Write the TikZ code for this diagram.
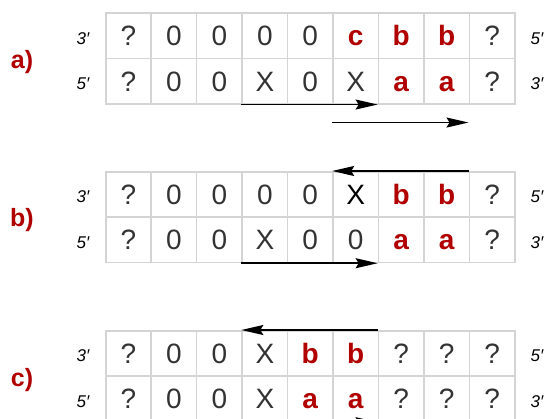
\documentclass[tikz,border=0pt]{standalone}
\usepackage{fontspec}
\setmainfont{Liberation Sans}
\usetikzlibrary{arrows.meta,calc}
\definecolor{gridgray}{HTML}{D4D4D4}
\definecolor{txtgray}{HTML}{333333}
\definecolor{darkred}{HTML}{B00000}
\newcommand\dnarow[4]{%
  \foreach \t/\s [count=\i] in {#4} {
    \node[cell,\s] (#1-#2-\i) at ({105+(\i-1)*45.44},#3) {\t};
  }}
\begin{document}
\begin{tikzpicture}[x=1pt,y=-1pt,
  cell/.style={draw=gridgray,line width=1.6pt,minimum width=45.44pt,minimum height=45.33pt,
    inner sep=0pt,anchor=north west,text height=20pt,text depth=0pt,
    font=\fontsize{28}{28}\selectfont},
  cg/.style={text=txtgray},
  ck/.style={text=black},
  cr/.style={text=darkred,font=\bfseries\fontsize{28}{28}\selectfont},
  plab/.style={text=darkred,font=\bfseries\fontsize{25}{25}\selectfont,inner sep=0pt},
  elab/.style={font=\itshape\fontsize{17}{17}\selectfont,inner sep=0pt,anchor=base},
  arr/.style={draw=black,line width=1.6pt,-{Stealth[length=22pt,width=10pt,inset=3pt]}}]
\useasboundingbox (0,0) rectangle (547,419);
\clip (0,0) rectangle (547,419);
% panel a
\dnarow{a}{1}{12.3}{?/cg,0/cg,0/cg,0/cg,0/cg,c/cr,b/cr,b/cr,?/cg}
\dnarow{a}{2}{57.6}{?/cg,0/cg,0/cg,X/cg,0/cg,X/cg,a/cr,a/cr,?/cg}
% panel b
\dnarow{b}{1}{171}{?/cg,0/cg,0/cg,0/cg,0/cg,X/ck,b/cr,b/cr,?/cg}
\dnarow{b}{2}{216.3}{?/cg,0/cg,0/cg,X/cg,0/cg,0/cg,a/cr,a/cr,?/cg}
% panel c
\dnarow{c}{1}{330}{?/cg,0/cg,0/cg,X/cg,b/cr,b/cr,?/cg,?/cg,?/cg}
\dnarow{c}{2}{375.3}{?/cg,0/cg,0/cg,X/cg,a/cr,a/cr,?/cg,?/cg,?/cg}
% panel labels
\node[plab] (la) at (22,62) {a)};
\node[plab] (lb) at (22,220) {b)};
\node[plab] (lc) at (22,380) {c)};
% end labels
\node[elab] (a-l1) at (83,44.3) {3′};
\node[elab] (a-l2) at (83,89.6) {5′};
\node[elab] (a-r1) at (537,44.3) {5′};
\node[elab] (a-r2) at (537,89.6) {3′};
\node[elab] (b-l1) at (83,203) {3′};
\node[elab] (b-l2) at (83,248.3) {5′};
\node[elab] (b-r1) at (537,203) {5′};
\node[elab] (b-r2) at (537,248.3) {3′};
\node[elab] (c-l1) at (83,362) {3′};
\node[elab] (c-l2) at (83,407.3) {5′};
\node[elab] (c-r1) at (537,362) {5′};
\node[elab] (c-r2) at (537,407.3) {3′};
% arrows panel a
\draw[arr] (a-2-4.south west) -- (a-2-7.south west);
\coordinate (a-s1) at ($(a-2-6.south west)+(0,18)$);
\coordinate (a-s2) at ($(a-2-9.south west)+(0,18)$);
\draw[arr] (a-s1) -- (a-s2);
% arrows panel b
\draw[arr] (b-1-9.north west) -- (b-1-6.north west);
\draw[arr] (b-2-4.south west) -- (b-2-7.south west);
% arrows panel c
\draw[arr] (c-1-7.north west) -- (c-1-4.north west);
\draw[arr] (c-2-4.south west) -- (c-2-7.south west);
\end{tikzpicture}
\end{document}
